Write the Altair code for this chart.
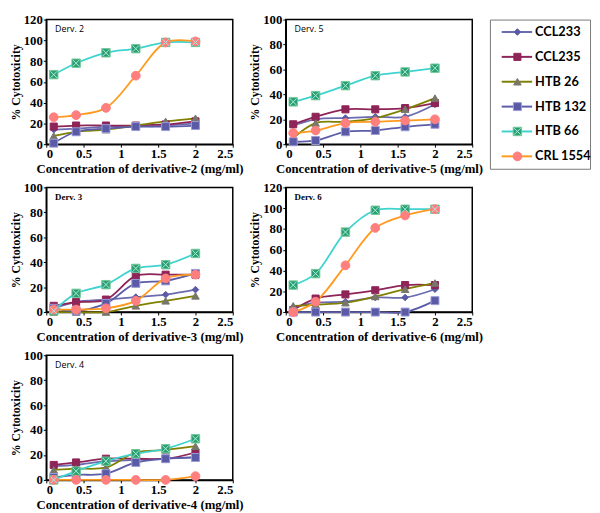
import altair as alt
import pandas as pd

conc = [0.1, 0.4, 0.8, 1.2, 1.6, 2.0]
series = ["CCL233", "CCL235", "HTB 26", "HTB 132", "HTB 66", "CRL 1554"]

# % cytotoxicity, one list per series (order of `series`)
derv2 = [
    [14, 15, 17, 17, 18, 20],
    [17, 18, 18, 18, 19, 22],
    [8, 12, 14, 18, 22, 25],
    [1, 12, 15, 17, 17, 18],
    [67, 78, 88, 92, 98, 98],
    [26, 28, 35, 66, 98, 99],
]
derv5 = [
    [15, 20, 21, 22, 22, 32],
    [16, 22, 28, 28, 29, 33],
    [5, 17, 18, 21, 28, 37],
    [2, 3, 10, 11, 14, 16],
    [34, 39, 47, 55, 58, 61],
    [9, 11, 17, 18, 19, 20],
]
derv3 = [
    [3, 8, 10, 12, 14, 18],
    [5, 8, 10, 29, 30, 30],
    [0, 0, 0, 5, 9, 13],
    [3, 1, 7, 23, 25, 31],
    [1, 15, 22, 35, 38, 47],
    [2, 2, 3, 9, 27, 30],
]
derv6 = [
    [4, 9, 10, 14, 14, 22],
    [2, 13, 17, 21, 26, 26],
    [6, 7, 9, 15, 22, 28],
    [0, 0, 0, 0, 0, 11],
    [26, 37, 77, 98, 99, 99],
    [0, 10, 45, 81, 93, 99],
]
derv4 = [
    [11, 12, 15, 16, 17, 18],
    [12, 14, 17, 17, 17, 22],
    [8, 9, 10, 22, 24, 27],
    [2, 4, 5, 14, 17, 18],
    [0, 7, 15, 21, 25, 33],
    [0, 0, 0, 0, 0, 3],
]

line_colors = ["#6B6BB0", "#8E2457", "#808000", "#5C5CA8", "#3FD3CF", "#FF9A1F"]
marker_fill = ["#5A5AA6", "#8E2457", "#77776A", "#5A5AA6", "#2E9E6C", "#FF7F7F"]
marker_stroke = ["#5A5AA6", "#8E2457", "#77776A", "#9C9CD6", "#6CC89A", "#FF7F7F"]
shapes = ["diamond", "square", "triangle-up", "square", "square", "circle"]
sizes = [45, 80, 75, 170, 150, 90]
xmark = "M-0.55,-0.55L0.55,0.55M-0.55,0.55L0.55,-0.55"

SERIF = "Times New Roman"
W, H = 190, 127


def long_df(vals):
    rows = []
    for s, ys in zip(series, vals):
        for c, y in zip(conc, ys):
            rows.append({"conc": c, "pct": y, "series": s})
    return pd.DataFrame(rows)


def point_enc():
    return dict(
        shape=alt.Shape("series:N", scale=alt.Scale(domain=series, range=shapes), legend=None),
        fill=alt.Fill("series:N", scale=alt.Scale(domain=series, range=marker_fill), legend=None),
        stroke=alt.Stroke("series:N", scale=alt.Scale(domain=series, range=marker_stroke), legend=None),
        size=alt.Size("series:N", scale=alt.Scale(domain=series, range=sizes), legend=None),
    )


axis_style = dict(
    grid=False, domainColor="black", domainWidth=1.5, tickColor="black", tickSize=3,
    labelFont=SERIF, labelFontSize=13, labelFontWeight="bold", labelColor="black",
    labelPadding=1, titleFont=SERIF, titleFontWeight="bold", titleColor="black",
)


def panel(vals, ymax, n, serif_label):
    df = long_df(vals)
    x = alt.X("conc:Q", scale=alt.Scale(domain=[0, 2.5], nice=False),
              axis=alt.Axis(values=[0, 0.5, 1, 1.5, 2, 2.5], format="~g",
                            title=f"Concentration of derivative-{n} (mg/ml)",
                            titleFontSize=13, titlePadding=2, **axis_style))
    y = alt.Y("pct:Q", scale=alt.Scale(domain=[0, ymax], nice=False),
              axis=alt.Axis(values=list(range(0, ymax + 1, 20)), title="% Cytotoxicity",
                            titleFontSize=12, titlePadding=1, **axis_style))
    base = alt.Chart(df).encode(x=x, y=y)
    lines = base.mark_line(interpolate="catmull-rom", strokeWidth=1.8).encode(
        color=alt.Color("series:N", scale=alt.Scale(domain=series, range=line_colors), legend=None)
    )
    pts = base.mark_point(filled=True, opacity=1, strokeWidth=1).encode(**point_enc())
    xm = base.transform_filter(alt.datum.series == "HTB 66").mark_point(
        shape=xmark, filled=False, stroke="#A5EEE8", strokeWidth=1, size=150, opacity=1
    )
    lab = alt.Chart(pd.DataFrame({"t": [f"Derv. {n}"]})).mark_text(
        align="left", baseline="middle",
        font=SERIF if serif_label else "Open Sans",
        fontWeight="bold" if serif_label else "normal",
        fontSize=9, color="black",
    ).encode(text="t:N", x=alt.value(9), y=alt.value(10))
    return alt.layer(lines, pts, xm, lab).properties(width=W, height=H)


p2 = panel(derv2, 120, 2, False)
p5 = panel(derv5, 100, 5, False)
p3 = panel(derv3, 100, 3, True)
p6 = panel(derv6, 120, 6, True)
p4 = panel(derv4, 100, 4, False)

leg_df = pd.DataFrame({"series": series})
ly = alt.Y("series:N", sort=series, axis=None, scale=alt.Scale(domain=series))
leg_base = alt.Chart(leg_df).encode(y=ly)
leg_rule = leg_base.mark_rule(strokeWidth=2).encode(
    x=alt.value(12), x2=alt.value(43),
    color=alt.Color("series:N", scale=alt.Scale(domain=series, range=line_colors), legend=None),
)
leg_pts = leg_base.mark_point(filled=True, opacity=1, strokeWidth=1).encode(x=alt.value(28), **point_enc())
leg_x = leg_base.transform_filter(alt.datum.series == "HTB 66").mark_point(
    shape=xmark, filled=False, stroke="#A5EEE8", strokeWidth=1, size=150, opacity=1
).encode(x=alt.value(28))
leg_txt = leg_base.mark_text(align="left", baseline="middle", font="Lato", fontWeight="bold",
                             fontSize=13, color="black").encode(x=alt.value(46), text="series:N")
legend = alt.layer(leg_rule, leg_pts, leg_x, leg_txt).properties(
    width=102, height=152, view=alt.ViewBackground(stroke="#777777", strokeWidth=1)
)

left = alt.vconcat(p2, p3, p4, spacing=4)
right = alt.vconcat(alt.hconcat(p5, legend, spacing=5), p6, spacing=4)
chart = alt.hconcat(left, right, spacing=3).properties(padding=0).configure_view(
    stroke="black", strokeWidth=1.5
).configure_axis(**axis_style)

chart.save("out.html", embed_options={"renderer": "svg", "actions": False})
